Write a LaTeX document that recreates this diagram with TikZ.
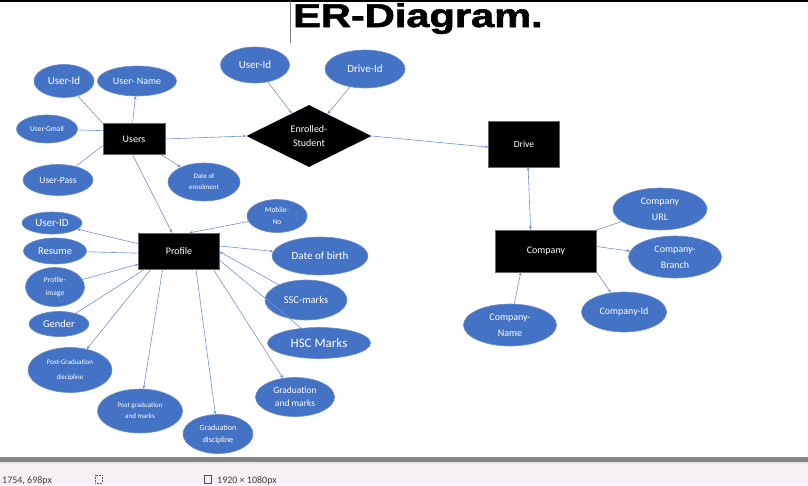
\documentclass[tikz,border=0pt]{standalone}
\usepackage{fontspec}
\setmainfont{Carlito}
\newfontfamily\titlefont[BoldFeatures={FakeBold=1.6}]{Liberation Sans}
\usetikzlibrary{arrows.meta, shapes.geometric}

\definecolor{erblue}{HTML}{4472C4}
\definecolor{errim}{HTML}{6A8CCB}
\definecolor{erline}{HTML}{6D93D6}
\definecolor{barbg}{HTML}{F7F1F6}

\begin{document}
\begin{tikzpicture}[
  x=1pt, y=-1pt,
  attr/.style={ellipse, draw=errim, fill=erblue, text=white, align=center, inner sep=0pt, line width=0.6pt},
  entity/.style={rectangle, draw=black!60, fill=black, text=white, align=center, inner sep=0pt},
  rel/.style={diamond, fill=black, text=white, align=center, inner sep=0pt},
  link/.style={draw=erline, line width=0.6pt},
  arrow/.style={link, -{Stealth[length=3.5pt, width=3pt]}},
  both/.style={link, {Stealth[length=3.5pt, width=3pt]}-{Stealth[length=3.5pt, width=3pt]}}
]
\useasboundingbox (0,0) rectangle (808,485);

% frame and title
\draw[line width=1.2pt] (0,1) -- (808,1);
\draw[gray, line width=0.8pt] (290,1) -- (290,43);
\node[anchor=base west, inner sep=0pt] (title) at (293,27)
  {\scalebox{1.26}[1]{\titlefont\fontsize{33}{33}\selectfont\bfseries ER-Diagram.}};

% users
\node[entity, minimum width=62, minimum height=31, font=\fontsize{10}{12}\selectfont] (users) at (134,139) {Users};
\node[attr, minimum width=60, minimum height=33, font=\fontsize{11}{12}\selectfont] (uid) at (64,81) {User-Id};
\node[attr, minimum width=79, minimum height=30, font=\fontsize{10}{12}\selectfont] (uname) at (137,81) {User- Name};
\node[attr, minimum width=61, minimum height=28, font=\fontsize{7.5}{9}\selectfont] (umail) at (47,129) {User-Gmail};
\node[attr, minimum width=70, minimum height=31, font=\fontsize{9.5}{11}\selectfont] (upass) at (58,180) {User-Pass};
\node[attr, minimum width=72, minimum height=38, font=\fontsize{7}{11}\selectfont] (udate) at (204,182) {Date of\\enrolment};

% relationship
\node[rel, minimum width=125, minimum height=62, font=\fontsize{10}{14}\selectfont] (enrol) at (309,136) {Enrolled-\\Student};
\node[attr, minimum width=69, minimum height=36, font=\fontsize{11}{12}\selectfont] (eid) at (255,65) {User-Id};
\node[attr, minimum width=80, minimum height=38, font=\fontsize{11}{12}\selectfont] (did) at (365,69) {Drive-Id};

% drive and company
\node[entity, minimum width=71, minimum height=46, font=\fontsize{9.5}{11}\selectfont] (drive) at (524,144) {Drive};
\node[entity, minimum width=101, minimum height=42, font=\fontsize{10}{12}\selectfont] (company) at (546,251) {Company};
\node[attr, minimum width=94, minimum height=42, font=\fontsize{10}{16}\selectfont] (curl) at (660,209) {Company\\URL};
\node[attr, minimum width=93, minimum height=42, font=\fontsize{10}{16}\selectfont] (cbranch) at (675,257) {Company-\\Branch};
\node[attr, minimum width=85, minimum height=40, font=\fontsize{10}{12}\selectfont] (cid) at (624,312) {Company-Id};
\node[attr, minimum width=93, minimum height=42, font=\fontsize{10}{16}\selectfont] (cname) at (510,325) {Company-\\Name};

% profile
\node[entity, minimum width=81, minimum height=36, font=\fontsize{10}{12}\selectfont] (profile) at (179,251) {Profile};
\node[attr, minimum width=60, minimum height=22, font=\fontsize{11}{12}\selectfont] (pid) at (52,223) {User-ID};
\node[attr, minimum width=63, minimum height=26, font=\fontsize{10.5}{12}\selectfont] (presume) at (55,251) {Resume};
\node[attr, minimum width=59, minimum height=39, font=\fontsize{7.5}{13}\selectfont] (pimage) at (55,287) {Profile-\\image};
\node[attr, minimum width=60, minimum height=25, font=\fontsize{10.5}{12}\selectfont] (pgender) at (59,324) {Gender};
\node[attr, minimum width=60, minimum height=33, font=\fontsize{7.5}{12}\selectfont] (pmobile) at (277,216) {Mobile-\\No};
\node[attr, minimum width=96, minimum height=38, font=\fontsize{11}{12}\selectfont] (pdob) at (320,256) {Date of birth};
\node[attr, minimum width=82, minimum height=40, font=\fontsize{10.5}{12}\selectfont] (pssc) at (306,300) {SSC-marks};
\node[attr, minimum width=103, minimum height=31, font=\fontsize{13}{14}\selectfont] (phsc) at (319,343) {HSC Marks};
\node[attr, minimum width=79, minimum height=39, font=\fontsize{9.5}{13}\selectfont] (pgmarks) at (295,397) {Graduation\\and marks};
\node[attr, minimum width=70, minimum height=39, font=\fontsize{8}{12}\selectfont] (pgdisc) at (218,434) {Graduation\\discipline};
\node[attr, minimum width=85, minimum height=44, font=\fontsize{7}{11}\selectfont] (ppgmarks) at (140,411) {Post graduation\\and marks};
\node[attr, minimum width=84, minimum height=45, font=\fontsize{7}{15}\selectfont] (ppgdisc) at (70,370) {Post-Graduation\\discipline};

% users links
\draw[link] (users.north west) -- (uid);
\draw[arrow] (users.95) -- (uname);
\draw[link] (users.165) -- (umail);
\draw[link] (users.192) -- (upass);
\draw[arrow] (users.330) -- (udate);
\draw[arrow] (users.east) -- (enrol.west);
\draw[arrow] (users.265) -- (profile.111);

% enrolment links
\draw[arrow] (eid) -- (enrol);
\draw[arrow] (did) -- (enrol);
\draw[arrow] (enrol.east) -- (drive.185);

% company links
\draw[both] (drive.-80) -- (company.126);
\draw[arrow] (cname) -- (company.220);
\draw[link] (company.north east) -- (curl);
\draw[arrow] (company.5) -- (cbranch);
\draw[arrow] (company.south east) -- (cid);

% profile links
\draw[arrow] (profile.170) -- (pid);
\draw[link] (profile.183) -- (presume);
\draw[arrow] (pimage) -- (profile.198);
\draw[link] (profile.208) -- (pgender);
\draw[arrow] (profile.213) -- (ppgdisc);
\draw[arrow] (profile.228) -- (ppgmarks);
\draw[arrow] (profile.313) -- (pgdisc);
\draw[arrow] (profile.332) -- (pgmarks);
\draw[link] (profile.347) -- (phsc);
\draw[arrow] (pssc) -- (profile.359);
\draw[arrow] (profile.7) -- (pdob);
\draw[arrow] (pmobile) -- (profile.60);

% status bar
\fill[barbg] (0,462) rectangle (808,485);
\fill[black!48] (0,457) rectangle (808,462);
\fill[black!10] (0,462) rectangle (808,464);
\node[anchor=base west, inner sep=0pt, text=black!75, font=\fontsize{10}{11}\selectfont] (pos) at (2,483) {1754, 698px};
\draw[black!65, densely dotted, line width=0.6pt] (95,475) rectangle (102,483);
\draw[black!70, line width=0.7pt] (204,475) rectangle (211,483);
\node[anchor=base west, inner sep=0pt, text=black!75, font=\fontsize{10}{11}\selectfont] (dims) at (217,483) {1920 × 1080px};
\end{tikzpicture}
\end{document}
